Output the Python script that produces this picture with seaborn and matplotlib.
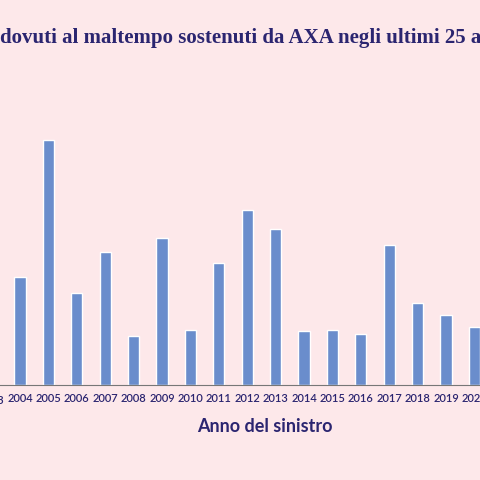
import numpy as np
import pandas as pd
import seaborn as sns
import matplotlib.pyplot as plt

years = [str(y) for y in range(2003, 2022)]
values = [70, 108, 245, 92, 133, 49, 147, 55, 122, 175, 156, 54, 55, 51, 140, 82, 70, 58, 90]

bg = '#fde8ea'
navy = '#2b2570'
df = pd.DataFrame({'anno': years, 'costo': values})

sns.set_theme(style='white')
plt.rcParams['font.family'] = ['Lato', 'DejaVu Sans']

fig = plt.figure(figsize=(4.8, 4.8), dpi=100, facecolor=bg)
ax = fig.add_axes([0, (480 - 385) / 480, 1, 300 / 480])
ax.set_facecolor(bg)
sns.barplot(data=df, x='anno', y='costo', color='#6a8dcc', width=0.4, saturation=1, ax=ax)

ax.set_xlim(1 - 20 / 28.4, 1 + 460 / 28.4)
ax.set_ylim(0, 300)
ax.set_yticks([])
for s in ['top', 'right', 'left']:
    ax.spines[s].set_visible(False)
ax.spines['bottom'].set_color('#777777')
ax.spines['bottom'].set_linewidth(0.8)
ax.tick_params(axis='x', length=0, pad=6, labelsize=8, labelcolor=navy)
for lbl in ax.get_xticklabels():
    lbl.set_fontweight('semibold')
ax.set_ylabel('')
ax.set_xlabel('Anno del sinistro', fontsize=13, fontweight='bold', color=navy, labelpad=10)
ax.xaxis.set_label_coords(265 / 480, -33 / 300)

# 2003 label sits just past the left edge, only its last digit shows
ax.text(0, -15, years[0], transform=ax.transData, ha='center', va='center',
        fontsize=8, fontweight='semibold', color=navy, clip_on=False)

fig.text(0, 1 - 38 / 480, 'dovuti al maltempo sostenuti da AXA negli ultimi 25 anni',
         ha='left', va='center', fontsize=15, fontweight='bold', color=navy,
         family=['Liberation Serif', 'DejaVu Serif'])

fig.savefig('out.png', dpi=100, facecolor=bg)
